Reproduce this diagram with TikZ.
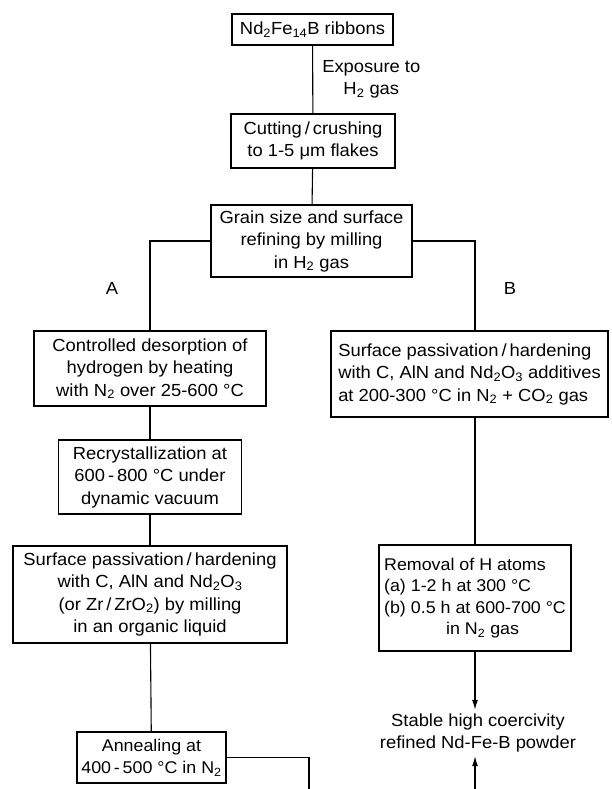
\documentclass[tikz,border=0pt]{standalone}
\usepackage{fontspec}
\setmainfont{Liberation Sans}[FakeStretch=1.05]
\usetikzlibrary{arrows.meta}
\newcommand{\sbs}[1]{\textsubscript{#1}}

\begin{document}
\begin{tikzpicture}[x=1pt,y=-1pt,
  stepbox/.style={draw, line width=1.4pt, inner sep=0pt, align=center,
    font=\fontsize{17.5}{22.5}\selectfont},
  lbl/.style={inner sep=0pt, align=center, font=\fontsize{17.5}{22}\selectfont},
  link/.style={line width=1.1pt},
  arr/.style={link, -{Latex[length=10pt,width=6pt]}}]
\useasboundingbox (0,0) rectangle (612,789);
\clip (0,0) rectangle (612,789);

% main trunk
\draw (312.5,29.5) node[stepbox, minimum width=161pt, minimum height=31pt] (rib)
  {Nd\sbs{2}Fe\sbs{14}B ribbons};
\draw (313,141) node[stepbox, minimum width=164pt, minimum height=54pt] (cut)
  {Cutting\,/\,crushing\\to 1-5 μm flakes};
\draw (311.5,241) node[stepbox, minimum width=201pt, minimum height=72pt] (grain)
  {Grain size and surface\\refining by milling\\in H\sbs{2} gas};

% route A
\draw (150,368.5) node[stepbox, minimum width=232pt, minimum height=75pt] (desorb)
  {Controlled desorption of\\hydrogen by heating\\with N\sbs{2} over 25-600 °C};
\draw (150,477) node[stepbox, minimum width=183pt, minimum height=74pt] (recryst)
  {Recrystallization at\\600\,-\,800 °C under\\dynamic vacuum};
\draw (150,594.5) node[stepbox, minimum width=274pt, minimum height=97pt] (passA)
  {Surface passivation\,/\,hardening\\with C, AlN and Nd\sbs{2}O\sbs{3}\\(or Zr\,/\,ZrO\sbs{2}) by milling\\in an organic liquid};
\draw (151.5,757.5) node[stepbox, minimum width=149pt, minimum height=51pt,
  font=\fontsize{17}{22.5}\selectfont] (anneal)
  {Annealing at\\400\,-\,500 °C in N\sbs{2}};

% route B
\draw (469.5,374) node[stepbox, align=left, minimum width=277pt, minimum height=86pt] (passB)
  {Surface passivation\,/\,hardening\\with C, AlN and Nd\sbs{2}O\sbs{3} additives\\at 200-300 °C in N\sbs{2} + CO\sbs{2} gas};
\draw (475,598) node[stepbox, align=left, minimum width=192pt, minimum height=106pt,
  font=\fontsize{17}{21.5}\selectfont] (remove)
  {Removal of H atoms\\(a) 1-2 h at 300 °C\\(b) 0.5 h at 600-700 °C\\\hspace{62pt}in N\sbs{2} gas};
\draw (478,733) node[lbl, minimum height=46pt] (powder)
  {Stable high coercivity\\refined Nd-Fe-B powder};

\draw (112,288) node[lbl] (routeA) {A};
\draw (510,288) node[lbl] (routeB) {B};

% connectors
\draw[link] (rib) -- node[lbl, right=9pt] (expo) {Exposure to\\H\sbs{2} gas} (cut);
\draw[link] (cut) -- (grain);
\draw[link] (grain.west) -| (desorb.north);
\draw[link] (grain.east) -| (passB.north -| remove.north);
\draw[link] (desorb) -- (recryst);
\draw[link] (recryst) -- (passA);
\draw[link] (passA) -- (anneal);
\draw[link] (passB.south -| remove.north) -- (remove.north);
\draw[arr] (remove.south) -- (remove.south |- powder.north);
\draw[arr] (anneal.east) -| (309,800) -| (powder.south -| remove.south);
\end{tikzpicture}
\end{document}
